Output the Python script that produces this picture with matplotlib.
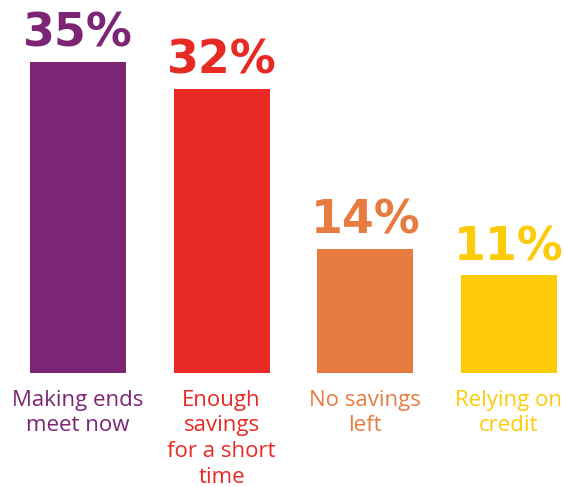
import matplotlib.pyplot as plt

# Share of respondents by financial situation
categories = ["Making ends\nmeet now", "Enough\nsavings\nfor a short\ntime",
              "No savings\nleft", "Relying on\ncredit"]
values = [35, 32, 14, 11]
colors = ["#7B2574", "#E82A24", "#E87C40", "#FDCB08"]

W, H, DPI = 564, 487, 100
BASE_PX = 373          # baseline of bars, px from top

fig = plt.figure(figsize=(W / DPI, H / DPI), dpi=DPI)
ax = fig.add_axes([0, (H - BASE_PX) / H, 1, BASE_PX / H])

x = list(range(len(values)))
ax.bar(x, values, width=0.668, color=colors)
ax.set_xlim(-0.543, 3.383)
ax.set_ylim(0, 42)
ax.axis("off")

for i, (v, c, lab) in enumerate(zip(values, colors, categories)):
    # big percentage above each bar
    ax.annotate(f"{v}%", xy=(i, v), xytext=(0, 11), textcoords="offset points",
                ha="center", va="baseline", fontsize=33, fontweight="bold",
                family="DejaVu Sans", color=c, annotation_clip=False)
    # category name under the bar
    ax.annotate(lab, xy=(i, 0), xytext=(0, -12), textcoords="offset points",
                ha="center", va="top", fontsize=16, family="Open Sans",
                color=c, linespacing=1.3, annotation_clip=False)

fig.savefig("out.png", dpi=DPI)
